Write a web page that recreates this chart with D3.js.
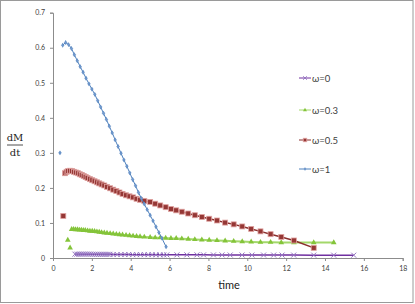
<!DOCTYPE html>
<html>
<head>
<meta charset="utf-8">
<script src="https://cdn.jsdelivr.net/npm/d3@7"></script>
<style>
  body { margin: 0; background: #fff; }
  svg { display: block; }
</style>
</head>
<body>
<svg class="chart" width="415" height="304"></svg>
<script>
// ---- data ----
var seriesNames = ['\u03c9=0', '\u03c9=0.3', '\u03c9=0.5', '\u03c9=1'];
var xTicks = [0, 2, 4, 6, 8, 10, 12, 14, 16, 18];
var yTicks = [0, 0.1, 0.2, 0.3, 0.4, 0.5, 0.6, 0.7];

// omega = 0
var tW0 = [1.13, 1.23, 1.33, 1.43, 1.53, 1.63, 1.73, 1.83, 1.93, 2.03, 2.13, 2.23, 2.33, 2.43, 2.53, 2.63, 2.73, 2.83, 2.93,
           3.1, 3.3, 3.5, 3.7, 3.9, 4.1, 4.3, 4.5, 4.7, 4.9, 5.1, 5.3, 5.5, 5.7, 5.86,
           6.38, 6.89, 7.41, 7.75, 8.26, 8.7, 9.12, 9.73, 10.24, 10.84, 11.36, 11.79, 12.39, 13.42, 14.45, 15.48];
var vW0 = [0.011, 0.011, 0.011, 0.011, 0.011, 0.011, 0.011, 0.011, 0.011, 0.0105, 0.0105, 0.0105, 0.0105, 0.0105, 0.0105, 0.0105, 0.0105, 0.0105, 0.0105,
           0.010, 0.010, 0.010, 0.010, 0.010, 0.0095, 0.0095, 0.0095, 0.0095, 0.0095, 0.0095, 0.009, 0.009, 0.009, 0.009,
           0.009, 0.009, 0.009, 0.009, 0.0088, 0.0088, 0.0086, 0.0086, 0.0085, 0.0085, 0.0084, 0.0084, 0.0083, 0.0082, 0.0081, 0.008];

// omega = 0.3 (null breaks the line)
var tW03 = [0.76, 0.82, 0.88, 0.92, 0.96, 1.06, 1.16, 1.26, 1.36, 1.46, 1.56, 1.66, 1.78, 1.90, 2.02, 2.14, 2.26, 2.38, 2.50, 2.64, 2.78, 2.94,
            3.10, 3.26, 3.42, 3.58, 3.76, 3.94, 4.12, 4.30, 4.48, 4.70, 5.00, 5.26, 5.52, 5.80, 6.07, 6.34, 6.63, 6.96, 7.30, 7.66,
            8.04, 8.44, 8.86, 9.30, 9.74, 10.20, 10.68, 11.20, 11.75, 12.40, 13.42, 14.45];
var vW03 = [0.051, null, 0.029, null, 0.082, 0.082, 0.081, 0.081, 0.080, 0.080, 0.079, 0.079, 0.078, 0.077, 0.077, 0.076, 0.075, 0.074, 0.073, 0.072, 0.071, 0.070,
            0.069, 0.068, 0.067, 0.066, 0.065, 0.064, 0.063, 0.062, 0.061, 0.060, 0.059, 0.058, 0.058, 0.057, 0.056, 0.056, 0.055, 0.054, 0.053, 0.052,
            0.051, 0.050, 0.049, 0.048, 0.047, 0.046, 0.045, 0.045, 0.044, 0.044, 0.044, 0.044];

// omega = 0.5
var tW05 = [0.53, 0.58, 0.62, 0.70, 0.78, 0.88, 0.98, 1.08, 1.18, 1.28, 1.38, 1.48, 1.58, 1.68, 1.78, 1.90, 2.02, 2.14, 2.26, 2.38, 2.50, 2.64, 2.78, 2.94,
            3.10, 3.26, 3.42, 3.58, 3.76, 3.94, 4.12, 4.30, 4.48, 4.70, 5.00, 5.26, 5.52, 5.80, 6.07, 6.34, 6.63, 6.96, 7.30, 7.66,
            8.04, 8.44, 8.86, 9.30, 9.74, 10.20, 10.68, 11.20, 11.75, 12.40, 13.42];
var vW05 = [0.120, null, 0.242, 0.246, 0.248, 0.249, 0.248, 0.246, 0.244, 0.242, 0.239, 0.237, 0.234, 0.231, 0.228, 0.225, 0.222, 0.219, 0.216, 0.213, 0.210, 0.207, 0.203, 0.199,
            0.195, 0.191, 0.187, 0.183, 0.179, 0.176, 0.173, 0.169, 0.166, 0.163, 0.160, 0.155, 0.150, 0.145, 0.140, 0.136, 0.132, 0.127, 0.122, 0.117,
            0.112, 0.107, 0.101, 0.096, 0.090, 0.083, 0.076, 0.068, 0.060, 0.050, 0.029];

// omega = 1
var tW1 = [0.36, 0.43, 0.50, 0.65, 0.80, 0.95, 1.10, 1.25, 1.40, 1.55, 1.70, 1.85, 2.00, 2.15, 2.30, 2.45, 2.60, 2.75, 2.90, 3.05,
           3.20, 3.35, 3.50, 3.65, 3.80, 3.95, 4.10, 4.25, 4.40, 4.55, 4.70, 4.85, 5.00, 5.15, 5.30, 5.45, 5.60, 5.82];
var vW1 = [0.300, null, 0.607, 0.615, 0.609, 0.598, 0.580, 0.563, 0.546, 0.530, 0.513, 0.497, 0.482, 0.467, 0.449, 0.431, 0.413, 0.395, 0.376, 0.357,
           0.337, 0.318, 0.299, 0.280, 0.262, 0.243, 0.224, 0.206, 0.187, 0.170, 0.154, 0.138, 0.122, 0.106, 0.089, 0.073, 0.057, 0.032];

// ---- drawing ----
var svg = d3.select('svg.chart');
var font = 'Lato, "Open Sans", sans-serif';

svg.append('rect')
    .attr('x', 0.5).attr('y', 0.5)
    .attr('width', 412.5).attr('height', 302)
    .attr('fill', '#fff')
    .attr('stroke', '#9a9a9a');

var x = d3.scaleLinear().domain([0, 18]).range([53, 402.7]);
var y = d3.scaleLinear().domain([0, 0.7]).range([258, 12.7]);

var xAxis = svg.append('g')
    .attr('transform', 'translate(0,258)')
    .call(d3.axisBottom(x).tickValues(xTicks).tickSize(3).tickFormat(d3.format('d')));
var yAxis = svg.append('g')
    .attr('transform', 'translate(53,0)')
    .call(d3.axisLeft(y).tickValues(yTicks).tickSize(3).tickFormat(function(d) { return d === 0 ? '0' : d3.format('.1f')(d); }));

[xAxis, yAxis].forEach(function(ax) {
    ax.select('.domain').attr('stroke', '#8c8c8c');
    ax.selectAll('.tick line').attr('stroke', '#8c8c8c');
    ax.selectAll('.tick text')
        .attr('font-family', font)
        .attr('font-size', '7px')
        .attr('fill', '#404040');
});
yAxis.selectAll('.tick text').attr('x', -8);
xAxis.selectAll('.tick text').attr('y', 8);

// axis titles
svg.append('text')
    .attr('x', 229).attr('y', 289)
    .attr('text-anchor', 'middle')
    .attr('font-family', font)
    .attr('font-size', '11px')
    .attr('fill', '#222')
    .text('time');

var frac = svg.append('g').attr('font-family', '"DejaVu Serif", "Liberation Serif", serif')
    .attr('font-size', '10px').attr('fill', '#222').attr('text-anchor', 'middle');
frac.append('text').attr('x', 15).attr('y', 141).text('dM');
frac.append('line').attr('x1', 7).attr('x2', 23).attr('y1', 145).attr('y2', 145)
    .attr('stroke', '#222').attr('stroke-width', 0.8);
frac.append('text').attr('x', 15).attr('y', 156).text('dt');

// series
var series = [
    { name: seriesNames[0], t: tW0, v: vW0, line: '#7030a0', lw: 1.5, mark: '#9577c2', sym: 'x' },
    { name: seriesNames[1], t: tW03, v: vW03, line: '#a3d86a', lw: 2, mark: '#84c43a', sym: 'tri' },
    { name: seriesNames[2], t: tW05, v: vW05, line: '#8a2f2d', lw: 1.5, mark: '#953735', sym: 'sq' },
    { name: seriesNames[3], t: tW1, v: vW1, line: '#4f81bd', lw: 1, mark: '#4f81bd', sym: 'dia' }
];

var line = d3.line()
    .defined(function(d) { return d[1] !== null; })
    .x(function(d) { return x(d[0]); })
    .y(function(d) { return y(d[1]); });

function drawMarker(g, s, cx, cy, k) {
    k = k || 1;
    if (s.sym === 'x') {
        var r = 2.5 * k;
        g.append('path')
            .attr('d', 'M' + (cx - r) + ',' + (cy - r) + 'L' + (cx + r) + ',' + (cy + r) +
                       'M' + (cx - r) + ',' + (cy + r) + 'L' + (cx + r) + ',' + (cy - r))
            .attr('stroke', s.mark).attr('stroke-width', 1).attr('fill', 'none');
    } else if (s.sym === 'tri') {
        g.append('path')
            .attr('d', d3.symbol(d3.symbolTriangle, 14 * k * k)())
            .attr('transform', 'translate(' + cx + ',' + cy + ')')
            .attr('fill', s.mark);
    } else if (s.sym === 'sq') {
        var h = 2.5 * k;
        g.append('rect')
            .attr('x', cx - h).attr('y', cy - h).attr('width', 2 * h).attr('height', 2 * h)
            .attr('fill', s.mark).attr('stroke', '#e0a3a1').attr('stroke-width', 0.8);
    } else {
        g.append('path')
            .attr('d', d3.symbol(d3.symbolDiamond, 7 * k * k)())
            .attr('transform', 'translate(' + cx + ',' + cy + ')')
            .attr('fill', s.mark);
        g.append('path')
            .attr('d', 'M' + (cx - 1.8 * k) + ',' + cy + 'h' + (3.6 * k) + 'M' + cx + ',' + (cy - 1.8 * k) + 'v' + (3.6 * k))
            .attr('stroke', '#7fa3d3').attr('stroke-width', 0.6);
    }
}

series.forEach(function(s) {
    var pts = s.t.map(function(t, i) { return [t, s.v[i]]; });
    var g = svg.append('g');
    g.append('path')
        .datum(pts)
        .attr('d', line)
        .attr('fill', 'none')
        .attr('stroke', s.line)
        .attr('stroke-width', s.lw);
    pts.filter(function(d) { return d[1] !== null; }).forEach(function(d) {
        drawMarker(g, s, x(d[0]), y(d[1]));
    });
});

// legend
var legendY = [78, 110, 140, 169];
series.forEach(function(s, i) {
    var g = svg.append('g');
    g.append('line')
        .attr('x1', 299).attr('x2', 311)
        .attr('y1', legendY[i]).attr('y2', legendY[i])
        .attr('stroke', s.line).attr('stroke-width', 1);
    drawMarker(g, s, 305, legendY[i], 0.7);
    g.append('text')
        .attr('x', 312).attr('y', legendY[i] + 3.5)
        .attr('font-family', font)
        .attr('font-size', '9.5px')
        .attr('fill', '#404040')
        .text(s.name);
});
</script>
</body>
</html>
